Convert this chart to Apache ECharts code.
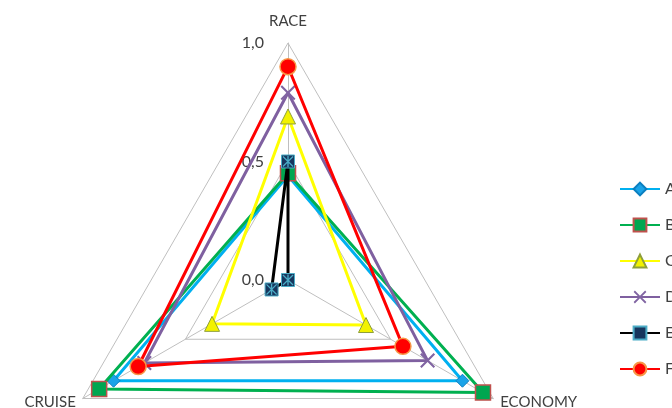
<!DOCTYPE html>
<html>
<head>
<meta charset="utf-8">
<script src="https://cdn.jsdelivr.net/npm/echarts@6/dist/echarts.min.js"></script>
<style>
  html, body { margin: 0; padding: 0; background: #fff; }
  #chart { width: 672px; height: 408px; }
</style>
</head>
<body>
<div id="chart"></div>
<script>
// indicator order goes counter-clockwise from the top
var categories = ['RACE', 'CRUISE', 'ECONOMY'];
var names = ['A', 'B', 'C', 'D', 'E', 'F'];
var valuesA = [0.44, 0.85, 0.85];
var valuesB = [0.45, 0.92, 0.95];
var valuesC = [0.69, 0.37, 0.38];
var valuesD = [0.79, 0.70, 0.68];
var valuesE = [0.50, 0.08, 0.00];
var valuesF = [0.90, 0.73, 0.56];
var scaleTicks = [0, 0.5, 1];

var font = 'Lato, "Noto Sans", sans-serif';
var xPath = 'path://M0,2 L2,0 L10,8 L18,0 L20,2 L12,10 L20,18 L18,20 L10,12 L2,20 L0,18 L8,10 Z';
var starPath = 'path://M4.4,0 L5.6,0 L5.6,10 L4.4,10 Z M0,0.8 L0.8,0 L10,9.2 L9.2,10 Z M9.2,0 L10,0.8 L0.8,10 L0,9.2 Z';

var styles = {
  A: { line: '#00B0F0', symbol: 'diamond', size: 13, fill: '#1AA3E8', border: '#0B7FC0', bw: 1 },
  B: { line: '#00B050', symbol: 'rect', size: 15, fill: '#00A650', border: '#C0504D', bw: 1.5 },
  C: { line: '#FFFF00', symbol: 'triangle', size: 15, fill: '#F2F200', border: '#8E9F3A', bw: 1 },
  D: { line: '#7F60A0', symbol: xPath, size: 15, fill: '#8064A2', border: '#8064A2', bw: 0 },
  E: { line: '#000000', symbol: 'rect', size: 13, fill: '#17365D', border: '#4BACC6', bw: 1 },
  F: { line: '#FF0000', symbol: 'circle', size: 16, fill: '#FF0000', border: '#F79646', bw: 1.5 }
};
var values = { A: valuesA, B: valuesB, C: valuesC, D: valuesD, E: valuesE, F: valuesF };

// one radar series per item so later items draw on top
var radarSeries = names.map(function (n, i) {
  var s = styles[n];
  return {
    type: 'radar',
    name: n + ' radar',
    z: 3 + i,
    data: [{
      name: n,
      value: values[n],
      symbol: s.symbol,
      symbolSize: s.size,
      itemStyle: { color: s.fill, borderColor: s.border, borderWidth: s.bw },
      lineStyle: { color: s.line, width: 3 }
    }]
  };
});

// asterisk drawn over the E boxes
radarSeries.push({
  type: 'radar',
  name: 'E marks',
  z: 8,
  silent: true,
  data: [{
    name: 'E*',
    value: valuesE,
    symbol: starPath,
    symbolSize: 11,
    itemStyle: { color: '#4BACC6' },
    lineStyle: { width: 0, opacity: 0 }
  }]
});

// empty line series, only there to give the legend line+marker icons
var legendSeries = names.map(function (n) {
  var s = styles[n];
  return {
    name: n,
    type: 'line',
    data: [],
    symbol: s.symbol,
    itemStyle: { color: s.fill, borderColor: s.border, borderWidth: s.bw },
    lineStyle: { color: s.line, width: 3 }
  };
});

var chart = echarts.init(document.getElementById('chart'), null, { renderer: 'canvas' });
chart.setOption({
  animation: false,
  textStyle: { fontFamily: font },
  legend: {
    data: names,
    orient: 'vertical',
    left: 614,
    top: 176,
    itemWidth: 40,
    itemHeight: 16,
    itemGap: 20,
    textStyle: { fontSize: 16, color: '#404040', fontFamily: font }
  },
  radar: {
    center: [288, 280],
    radius: 237,
    startAngle: 90,
    shape: 'polygon',
    splitNumber: 2,
    indicator: categories.map(function (c) { return { name: c, min: 0, max: 1 }; }),
    axisName: {
      color: '#404040',
      fontSize: 15,
      fontFamily: font,
      // the top name sits a little higher above its vertex
      formatter: function (name) { return name === categories[0] ? '{top|' + name + '}' : name; },
      rich: { top: { fontSize: 15, color: '#404040', fontFamily: font, padding: [0, 0, 6, 0] } }
    },
    nameGap: 8,
    axisLine: { lineStyle: { color: '#BFBFBF', width: 1 } },
    splitLine: { lineStyle: { color: '#BFBFBF', width: 1 } },
    splitArea: { show: false },
    axisTick: { show: false },
    axisLabel: { show: false }
  },
  // value scale labels along the RACE spoke
  grid: { left: 288, top: 43, width: 10, height: 237, containLabel: false, outerBoundsMode: 'none' },
  xAxis: { type: 'value', show: false },
  yAxis: {
    type: 'value',
    min: 0,
    max: 1,
    interval: 0.5,
    axisLine: { show: false },
    axisTick: { show: false },
    splitLine: { show: false },
    axisLabel: {
      margin: 24,
      fontSize: 16,
      color: '#404040',
      fontFamily: font,
      formatter: function (v) { return scaleTicks.indexOf(v) >= 0 ? v.toFixed(1).replace('.', ',') : ''; }
    }
  },
  series: radarSeries.concat(legendSeries)
});
</script>
</body>
</html>
